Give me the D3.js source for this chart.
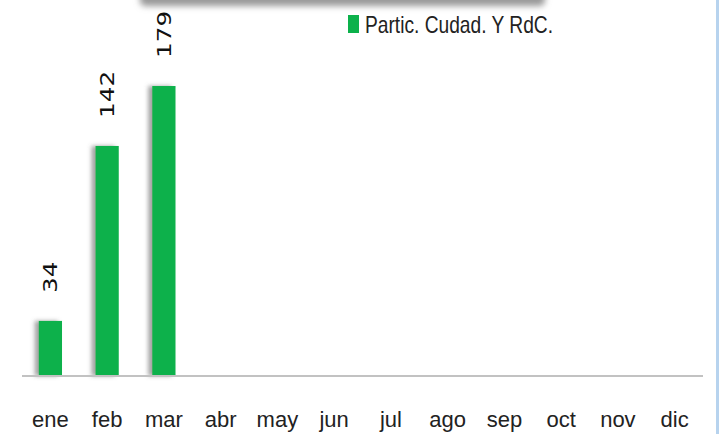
<!DOCTYPE html>
<html><head><meta charset="utf-8">
<script src="https://cdn.jsdelivr.net/npm/d3@7"></script>
<style>html,body{margin:0;padding:0;background:#fff;overflow:hidden}</style>
</head><body>
<svg id="chart" width="719" height="434"></svg>
<script>
const months = ["ene","feb","mar","abr","may","jun","jul","ago","sep","oct","nov","dic"];
const seriesName = "Partic. Cudad. Y RdC.";
const values = [34, 142, 179, null, null, null, null, null, null, null, null, null];

const svg = d3.select("#chart");
const W = 719, H = 434;
const baseY = 376;

const defs = svg.append("defs");
const f = defs.append("filter").attr("id","bshadow").attr("x","-50%").attr("y","-10%").attr("width","200%").attr("height","120%");
f.append("feDropShadow").attr("dx",-4).attr("dy",0).attr("stdDeviation",2.2).attr("flood-color","#666").attr("flood-opacity",0.6);
const f2 = defs.append("filter").attr("id","blur").attr("x","-10%").attr("y","-100%").attr("width","120%").attr("height","300%");
f2.append("feGaussianBlur").attr("stdDeviation",3);

// top shadow of a box above the frame
svg.append("rect").attr("x",140).attr("y",-14).attr("width",405).attr("height",20).attr("rx",5)
  .attr("fill","#999").attr("filter","url(#blur)");
svg.append("rect").attr("x",140).attr("y",-14).attr("width",405).attr("height",14).attr("fill","#fff");

// right edge
svg.append("rect").attr("x",716).attr("y",0).attr("width",3).attr("height",H).attr("fill","#b7d3ee");

const x = d3.scaleBand().domain(months).range([22, 703]).paddingInner(0.59).paddingOuter(0.295);
const y = d3.scaleLinear().domain([0, 200]).range([baseY, baseY - 324]);

// bars
const data = months.map((m,i)=>({m, v: values[i]})).filter(d=>d.v!=null);
svg.append("g").selectAll("rect").data(data).join("rect")
  .attr("x", d=>x(d.m)).attr("width", x.bandwidth())
  .attr("y", d=>y(d.v)).attr("height", d=>baseY - y(d.v))
  .attr("fill","#0cb14b").attr("filter","url(#bshadow)");

// axis
const axis = d3.axisBottom(x).tickSize(0).tickPadding(35);
const gx = svg.append("g").attr("transform",`translate(0,${baseY})`).call(axis);
gx.select(".domain").attr("stroke","#c2c2c2").attr("stroke-width",2).attr("d","M22,0H703");
gx.selectAll("text").attr("font-family","'Liberation Sans Narrow','Liberation Sans',sans-serif")
  .attr("font-size",22).attr("fill","#222");

// value labels (rotated)
svg.append("g").selectAll("text").data(data).join("text")
  .attr("transform", d=>`translate(${x(d.m)+x.bandwidth()/2+7},${y(d.v)-28}) rotate(-90)`)
  .attr("font-family","'DejaVu Sans',sans-serif").attr("font-size",19).attr("fill","#111")
  .attr("textLength", d=>String(d.v).length*15.7).attr("lengthAdjust","spacingAndGlyphs")
  .text(d=>d.v);

// legend
const lg = svg.append("g");
lg.append("rect").attr("x",348).attr("y",15).attr("width",11).attr("height",18).attr("fill","#0cb14b");
lg.append("text").attr("x",365).attr("y",33)
  .attr("font-family","'Liberation Sans Narrow','Liberation Sans',sans-serif")
  .attr("font-size",24).attr("fill","#222")
  .attr("textLength",188).attr("lengthAdjust","spacingAndGlyphs")
  .text(seriesName);
</script>
</body></html>
